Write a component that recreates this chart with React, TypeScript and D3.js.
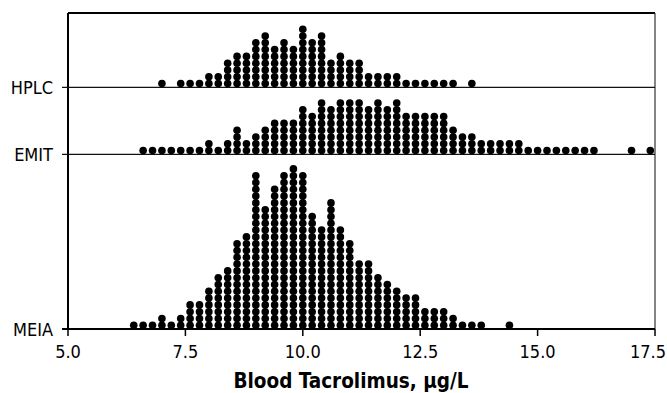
import React from "react";
import * as d3 from "d3";

// Dot-plot data: [bin centre (µg/L), number of stacked dots]
const hplcData: [number, number][] = [
  [7.0, 1], [7.4, 1], [7.6, 1], [7.8, 1], [8.0, 2], [8.2, 2], [8.4, 4], [8.6, 5],
  [8.8, 5], [9.0, 7], [9.2, 8], [9.4, 6], [9.6, 7], [9.8, 6], [10.0, 9], [10.2, 7],
  [10.4, 8], [10.6, 4], [10.8, 5], [11.0, 4], [11.2, 4], [11.4, 2], [11.6, 2],
  [11.8, 2], [12.0, 2], [12.2, 1], [12.4, 1], [12.6, 1], [12.8, 1], [13.0, 1],
  [13.2, 1], [13.6, 1],
];

const emitData: [number, number][] = [
  [6.6, 1], [6.8, 1], [7.0, 1], [7.2, 1], [7.4, 1], [7.6, 1], [7.8, 1], [8.0, 2],
  [8.2, 1], [8.4, 2], [8.6, 4], [8.8, 2], [9.0, 3], [9.2, 4], [9.4, 5], [9.6, 5],
  [9.8, 5], [10.0, 7], [10.2, 6], [10.4, 8], [10.6, 7], [10.8, 8], [11.0, 8],
  [11.2, 8], [11.4, 7], [11.6, 8], [11.8, 7], [12.0, 8], [12.2, 6], [12.4, 6],
  [12.6, 6], [12.8, 6], [13.0, 6], [13.2, 4], [13.4, 3], [13.6, 3], [13.8, 2],
  [14.0, 2], [14.2, 2], [14.4, 2], [14.6, 2], [14.8, 1], [15.0, 1], [15.2, 1],
  [15.4, 1], [15.6, 1], [15.8, 1], [16.0, 1], [16.2, 1], [17.0, 1], [17.4, 1],
];

const meiaData: [number, number][] = [
  [6.4, 1], [6.6, 1], [6.8, 1], [7.0, 2], [7.2, 1], [7.4, 2], [7.6, 4], [7.8, 4],
  [8.0, 6], [8.2, 8], [8.4, 9], [8.6, 13], [8.8, 14], [9.0, 23], [9.2, 18],
  [9.4, 21], [9.6, 23], [9.8, 24], [10.0, 23], [10.2, 17], [10.4, 15], [10.6, 19],
  [10.8, 15], [11.0, 13], [11.2, 10], [11.4, 10], [11.6, 8], [11.8, 7], [12.0, 6],
  [12.2, 5], [12.4, 5], [12.6, 3], [12.8, 3], [13.0, 3], [13.2, 2], [13.4, 1],
  [13.6, 1], [13.8, 1], [14.4, 1],
];

const groupNames = ["HPLC", "EMIT", "MEIA"];
const xTicks = [5.0, 7.5, 10.0, 12.5, 15.0, 17.5];
const xTitle = "Blood Tacrolimus, µg/L";

const W = 667;
const H = 393;
const left = 68;
const right = 655;
const top = 13;
const bottom = 329;
const dotStep = 6.8;
const dotR = 3.8;
const font = "'DejaVu Sans Condensed', 'DejaVu Sans', sans-serif";

export default function App() {
  const x = d3.scaleLinear().domain([5, 17.5]).range([left, right]);
  // baseline position of each group row
  const yBase = d3.scaleOrdinal<string, number>().domain(groupNames).range([87.3, 154.3, bottom]);
  const datasets = [hplcData, emitData, meiaData];

  return (
    <svg
      width={W}
      height={H}
      style={{ position: "absolute", left: 0, top: 0, background: "#fff" }}
    >
      {/* frame */}
      <line x1={left} x2={right} y1={top} y2={top} stroke="#000" strokeWidth={2} />
      <line x1={right} x2={right} y1={top} y2={bottom} stroke="#333" strokeWidth={1.2} />
      <line x1={left} x2={left} y1={top} y2={bottom + 0.5} stroke="#000" strokeWidth={2} />
      <line x1={left - 6} x2={right} y1={bottom} y2={bottom} stroke="#000" strokeWidth={2} />
      {groupNames.slice(0, 2).map((g) => (
        <line key={g} x1={left - 6} x2={right} y1={yBase(g)} y2={yBase(g)} stroke="#111" strokeWidth={1.3} />
      ))}

      {/* x ticks */}
      {xTicks.map((t, i) => {
        const last = i === xTicks.length - 1;
        return (
          <g key={t}>
            <line x1={x(t)} x2={x(t)} y1={bottom} y2={bottom + 7} stroke="#000" strokeWidth={1.5} />
            <text
              x={last ? W - 1 : x(t)}
              y={358}
              textAnchor={last ? "end" : "middle"}
              fontFamily={font}
              fontSize={18}
              fill="#000"
            >
              {t.toFixed(1)}
            </text>
          </g>
        );
      })}

      {/* dots */}
      {datasets.map((data, gi) => {
        const base = yBase(groupNames[gi]);
        return (
          <g key={groupNames[gi]}>
            {data.flatMap(([v, n]) =>
              d3.range(n).map((k) => (
                <circle
                  key={`${v}-${k}`}
                  cx={x(v)}
                  cy={base - dotStep * (k + 0.5) - 0.3}
                  r={dotR}
                  fill="#000"
                />
              ))
            )}
          </g>
        );
      })}

      {/* group labels */}
      {groupNames.map((g) => (
        <text
          key={g}
          x={left - 15}
          y={yBase(g) + 6.5}
          textAnchor="end"
          fontFamily={font}
          fontSize={18}
          fill="#000"
        >
          {g}
        </text>
      ))}

      {/* axis title */}
      <text
        x={351}
        y={387.5}
        textAnchor="middle"
        fontFamily={font}
        fontSize={20.5}
        fontWeight="bold"
        fill="#000"
      >
        {xTitle}
      </text>
    </svg>
  );
}
